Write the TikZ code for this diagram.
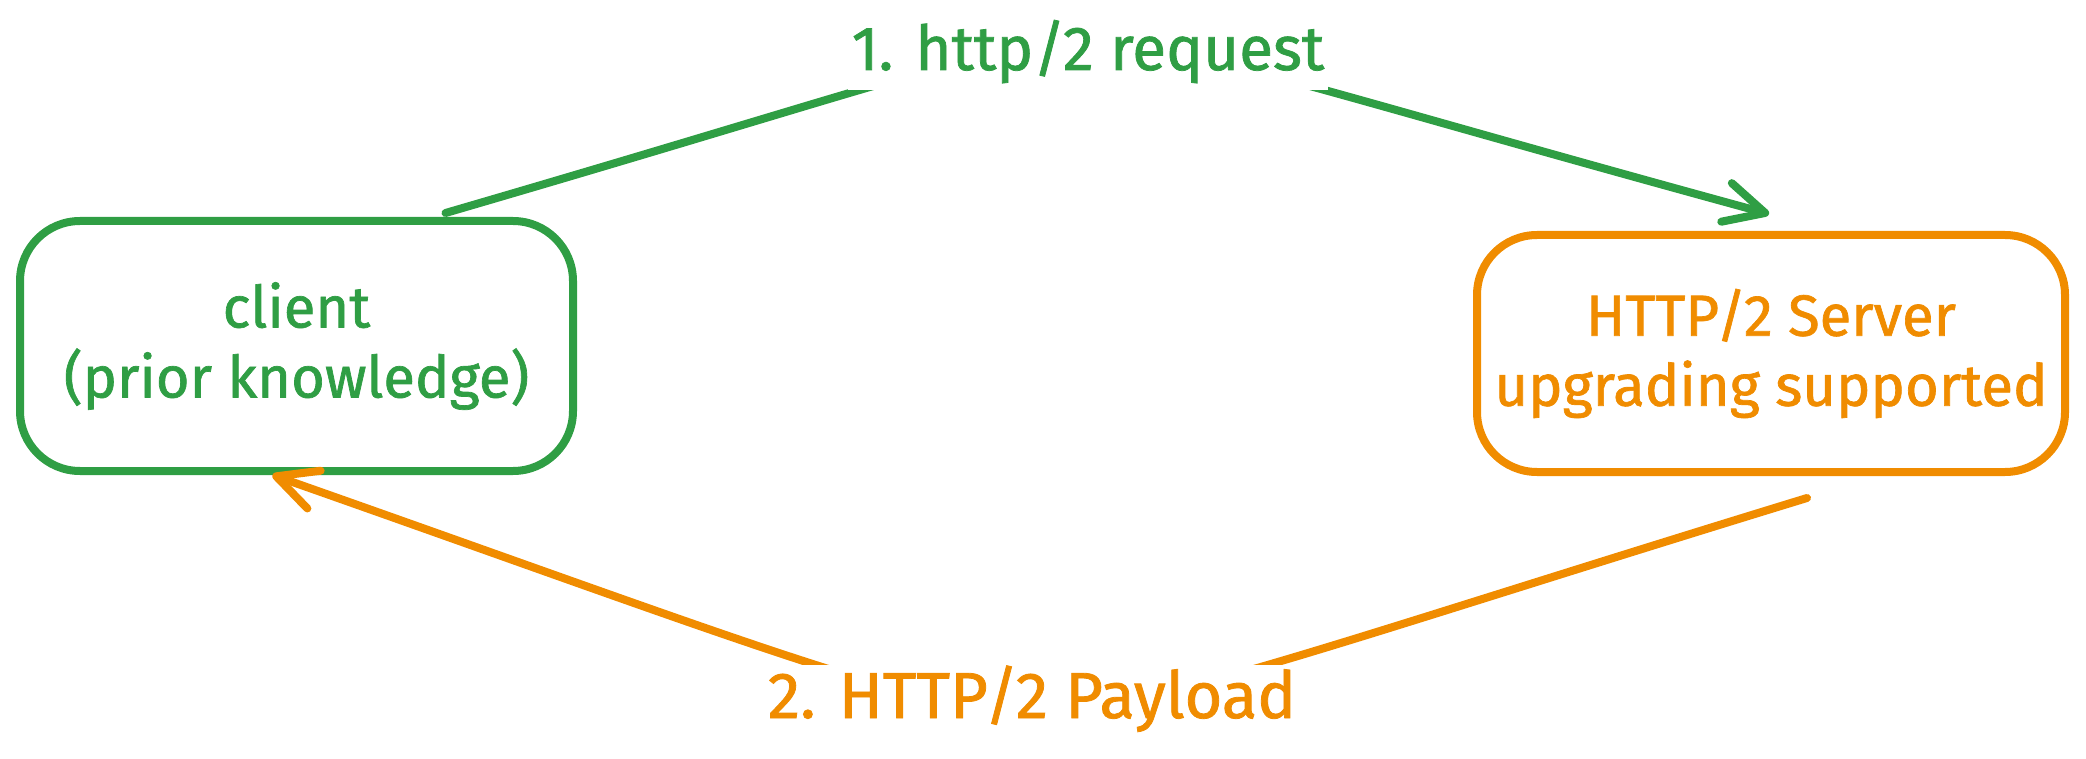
\documentclass[tikz,border=0pt]{standalone}
\usepackage{fontspec}
\setmainfont{Fira Sans}
\newfontfamily\handfont{Fira Sans}[FakeBold=1.2]
\usetikzlibrary{arrows.meta}
\definecolor{exgreen}{HTML}{2F9E44}
\definecolor{exorange}{HTML}{F08C00}
\begin{document}
\begin{tikzpicture}[x=1pt,y=-1pt,
  box/.style={draw, line width=8pt, rounded corners=60pt, align=center,
    font=\handfont\fontsize{58}{70}\selectfont, inner sep=0pt},
  conn/.style={line width=8pt, line cap=round,
    -{Straight Barb[length=40pt,width=40pt,line cap=round,line join=round]}},
  lbl/.style={fill=white, inner xsep=4pt, anchor=base}]
\useasboundingbox (0,0) rectangle (2086,759);
\node[box, exgreen, text=exgreen, minimum width=553pt, minimum height=250pt] (client) at (296.5,346) {client\\(prior knowledge)};
\node[box, exorange, text=exorange, minimum width=588pt, minimum height=237pt] (server) at (1771,353.5) {HTTP/2 Server\\upgrading supported};
\coordinate (a1s) at ([xshift=149pt,yshift=4pt]client.north);
\coordinate (a1e) at ([xshift=-2pt,yshift=17pt]server.north);
\coordinate (m1) at (1088,45);
\coordinate (a2s) at ([xshift=36pt,yshift=-22pt]server.south);
\coordinate (a2e) at ([xshift=-24pt,yshift=0pt]client.south);
\coordinate (m2) at (1035,712);
\draw[conn, exgreen] (a1s) .. controls (926,73) and (980,45) .. (m1)
  .. controls (1196,45) and (1289,83) .. (a1e);
\draw[conn, exorange] (a2s) .. controls (1327,645) and (1150,712) .. (m2)
  .. controls (920,712) and (753,644) .. (a2e);
\node[lbl, text=exgreen, font=\handfont\fontsize{62}{75}\selectfont, text height=44pt, text depth=13pt, inner ysep=7pt] (l1) at (1088,70) {1. http/2 request};
\node[lbl, text=exorange, font=\handfont\fontsize{65}{75}\selectfont, text height=45pt, text depth=20pt, inner ysep=8pt] (l2) at (1032,718) {2. HTTP/2 Payload};
\end{tikzpicture}
\end{document}
